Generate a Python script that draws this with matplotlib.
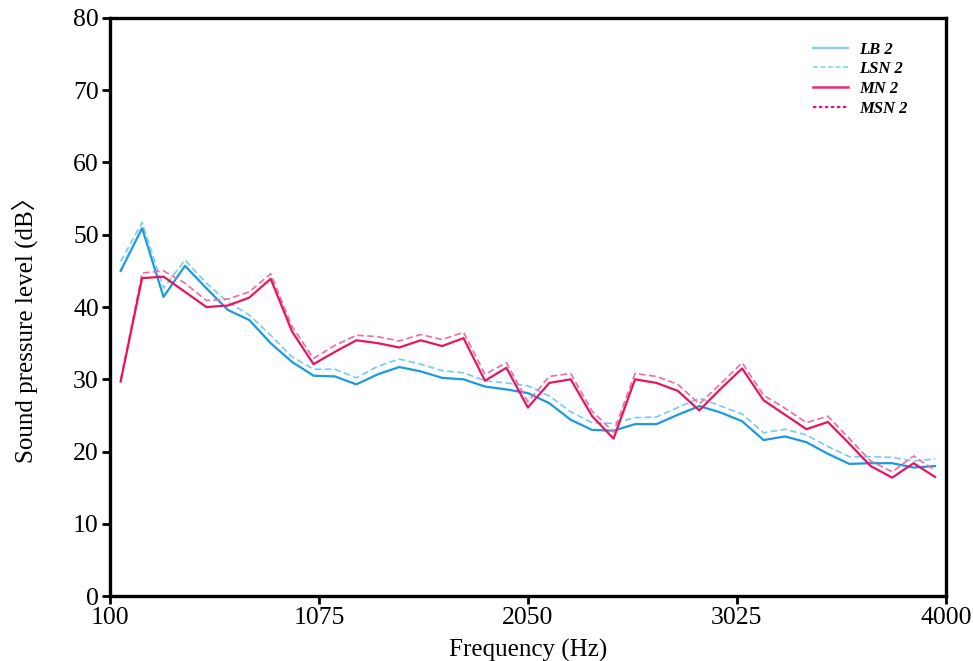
"""
Sound pressure level vs frequency for LB 2 / LSN 2 / MN 2 / MSN 2.
Saves the figure to out.png (973x661 px).
"""

import matplotlib
matplotlib.use("Agg")
import matplotlib.pyplot as plt
from matplotlib.lines import Line2D

# ========== data ==========
freq = [150, 250, 350, 450, 550, 650, 750, 850, 950, 1050,
        1150, 1250, 1350, 1450, 1550, 1650, 1750, 1850, 1950, 2050,
        2150, 2250, 2350, 2450, 2550, 2650, 2750, 2850, 2950, 3050,
        3150, 3250, 3350, 3450, 3550, 3650, 3750, 3850, 3950]

lb2 = [45.0, 50.9, 41.4, 45.7, 42.6, 39.6, 38.2, 35.0, 32.4, 30.5,
       30.4, 29.3, 30.7, 31.7, 31.1, 30.2, 30.0, 29.0, 28.6, 28.1,
       26.7, 24.4, 23.0, 22.9, 23.8, 23.8, 25.1, 26.3, 25.4, 24.2,
       21.6, 22.1, 21.3, 19.7, 18.3, 18.4, 18.4, 17.8, 18.0]

lsn2 = [46.3, 51.7, 42.6, 46.5, 43.3, 40.7, 38.9, 36.1, 33.1, 31.4,
        31.4, 30.2, 31.8, 32.8, 32.1, 31.2, 30.9, 29.8, 29.5, 29.1,
        27.7, 25.5, 24.0, 23.9, 24.7, 24.8, 26.1, 27.4, 26.3, 25.2,
        22.6, 23.1, 22.3, 20.7, 19.3, 19.3, 19.2, 18.7, 19.0]

mn2 = [29.7, 44.0, 44.2, 42.1, 40.0, 40.2, 41.3, 43.9, 36.6, 32.1,
       33.8, 35.4, 35.0, 34.4, 35.4, 34.6, 35.7, 29.8, 31.6, 26.1,
       29.5, 30.0, 24.9, 21.8, 30.0, 29.5, 28.4, 25.7, 28.7, 31.5,
       27.1, 25.1, 23.1, 24.1, 21.1, 18.0, 16.4, 18.4, 16.5]

msn2 = [29.9, 44.7, 45.0, 43.3, 40.9, 41.1, 42.1, 44.6, 37.3, 32.9,
        34.7, 36.1, 35.9, 35.3, 36.2, 35.5, 36.5, 30.7, 32.3, 26.9,
        30.4, 30.8, 25.6, 22.7, 30.8, 30.4, 29.3, 26.6, 29.4, 32.3,
        27.8, 26.0, 24.0, 24.9, 21.8, 18.7, 17.2, 19.4, 17.4]

series_names = ["LB 2", "LSN 2", "MN 2", "MSN 2"]
x_ticks = [100, 1075, 2050, 3025, 4000]
y_ticks = [0, 10, 20, 30, 40, 50, 60, 70, 80]


def plot_spl():
    # serif text, CJK font only as fallback for the "〉" in the y label
    plt.rcParams["font.family"] = ["Liberation Serif", "Noto Sans CJK SC"]

    fig = plt.figure(figsize=(9.73, 6.61), dpi=100)
    ax = fig.add_axes([0.113, 0.098, 0.859, 0.875])

    # plotted lines
    ax.plot(freq, lsn2, color="#74cdf0", lw=1.2, ls=(0, (4, 2)))
    ax.plot(freq, lb2, color="#1a9be0", lw=1.6)
    ax.plot(freq, msn2, color="#f06aa5", lw=1.2, ls=(0, (4, 2)))
    ax.plot(freq, mn2, color="#e8145f", lw=1.6)

    ax.set_xlim(100, 4000)
    ax.set_ylim(0, 80)
    ax.set_xticks(x_ticks)
    ax.set_yticks(y_ticks)

    for side in ["left", "bottom", "top", "right"]:
        ax.spines[side].set_linewidth(2.4)
        ax.spines[side].set_color("black")
    ax.tick_params(axis="both", direction="out", length=6, width=2,
                   labelsize=18.5, pad=2)

    ax.set_xlabel("Frequency (Hz)", fontsize=18, labelpad=7)
    ax.set_ylabel("Sound pressure level (dB〉", fontsize=18)
    # reference label sits a bit below the axis centre
    ax.yaxis.set_label_coords(-0.086, 0.47)

    # legend with its own (lighter) sample colours
    handles = [
        Line2D([], [], color="#86d2ec", lw=1.6),
        Line2D([], [], color="#86d2ec", lw=1.2, ls=(0, (3, 1.5))),
        Line2D([], [], color="#f0287a", lw=1.8),
        Line2D([], [], color="#f0107a", lw=1.6, ls=(0, (1.5, 1.2))),
    ]
    ax.legend(handles, series_names, loc="upper right",
              bbox_to_anchor=(0.972, 0.985), frameon=False,
              handlelength=2.1, handletextpad=0.67, labelspacing=0.22,
              prop={"family": "Liberation Serif", "weight": "bold",
                    "style": "italic", "size": 12})

    fig.savefig("out.png", dpi=100)


if __name__ == "__main__":
    plot_spl()
